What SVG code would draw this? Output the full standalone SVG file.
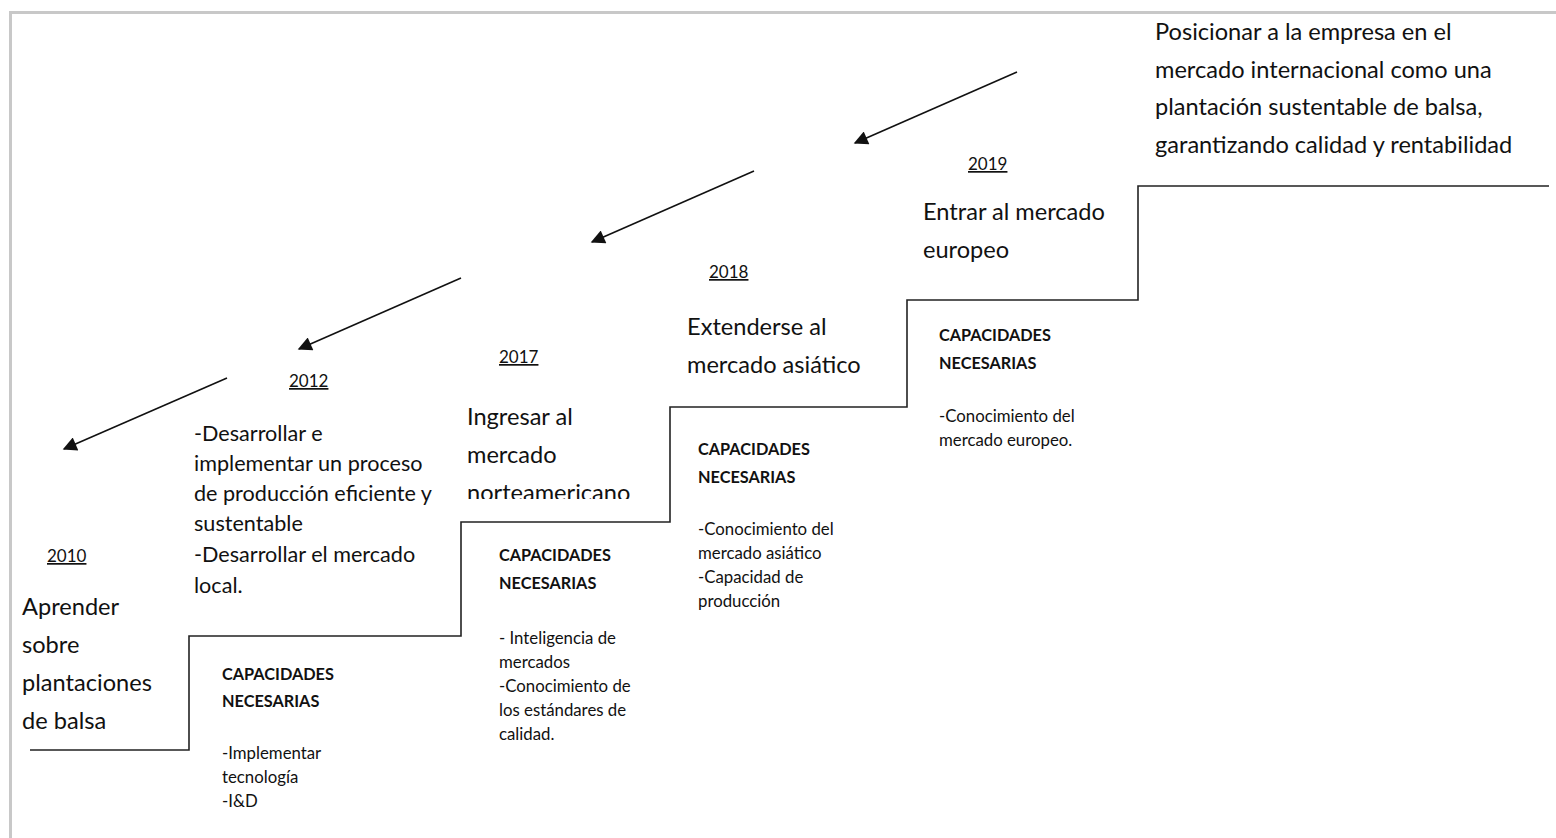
<svg xmlns="http://www.w3.org/2000/svg" width="1556" height="838" viewBox="0 0 1556 838">
<defs>
<style>
text{font-family:Lato,"Open Sans","Liberation Sans",sans-serif;fill:#111}
.yr{font-size:17px;text-decoration:underline}
.big{font-size:23.6px}
.mid{font-size:21.6px}
.cap{font-size:16.3px;font-weight:bold}
.sm{font-size:16.8px}
.conn{stroke:#111;stroke-width:1.6;fill:none}
.stair{stroke:#222;stroke-width:1.6;fill:none}
</style>
<marker id="ahb" viewBox="0 0 10 10" refX="9" refY="5" markerWidth="16" markerHeight="14" markerUnits="userSpaceOnUse" orient="auto">
<path d="M0,0 L10,5 L0,10 z" fill="#111"/>
</marker>
<clipPath id="clip2017"><rect x="440" y="380" width="220" height="119"/></clipPath>
</defs>
<rect width="1556" height="838" fill="#fff"/>
<path d="M10.5,838 V12.5 H1556" stroke="#c8c8c8" stroke-width="3" fill="none"/>
<g id="connectors">
<path class="stair" d="M30,750 H189 V636 H461 V522 H670 V407 H907 V300 H1138 V186 H1549"/>
<line class="conn" x1="227" y1="378" x2="64" y2="449" marker-end="url(#ahb)"/>
<line class="conn" x1="461" y1="278" x2="299" y2="349" marker-end="url(#ahb)"/>
<line class="conn" x1="754" y1="171" x2="592" y2="242" marker-end="url(#ahb)"/>
<line class="conn" x1="1017" y1="72" x2="855" y2="143" marker-end="url(#ahb)"/>
</g>
<g id="step2010">
<text class="yr" x="47" y="562">2010</text>
<text class="big" x="22"><tspan x="22" y="615">Aprender</tspan><tspan x="22" y="653">sobre</tspan><tspan x="22" y="691">plantaciones</tspan><tspan x="22" y="729">de balsa</tspan></text>
</g>
<g id="step2012">
<text class="yr" x="289" y="387">2012</text>
<text class="mid"><tspan x="194" y="441">-Desarrollar e</tspan><tspan x="194" y="471">implementar un proceso</tspan><tspan x="194" y="501">de producción eficiente y</tspan><tspan x="194" y="531">sustentable</tspan><tspan x="194" y="562">-Desarrollar el mercado</tspan><tspan x="194" y="593">local.</tspan></text>
<text class="cap"><tspan x="222" y="680">CAPACIDADES</tspan><tspan x="222" y="707">NECESARIAS</tspan></text>
<text class="sm"><tspan x="222" y="759">-Implementar</tspan><tspan x="222" y="783">tecnología</tspan><tspan x="222" y="807">-I&amp;D</tspan></text>
</g>
<g id="step2017">
<text class="yr" x="499" y="363">2017</text>
<text class="big" clip-path="url(#clip2017)"><tspan x="467" y="425">Ingresar al</tspan><tspan x="467" y="463">mercado</tspan><tspan x="467" y="501">norteamericano</tspan></text>
<text class="cap"><tspan x="499" y="561">CAPACIDADES</tspan><tspan x="499" y="589">NECESARIAS</tspan></text>
<text class="sm"><tspan x="499" y="644">- Inteligencia de</tspan><tspan x="499" y="668">mercados</tspan><tspan x="499" y="692">-Conocimiento de</tspan><tspan x="499" y="716">los estándares de</tspan><tspan x="499" y="740">calidad.</tspan></text>
</g>
<g id="step2018">
<text class="yr" x="709" y="278">2018</text>
<text class="big"><tspan x="687" y="335">Extenderse al</tspan><tspan x="687" y="373">mercado asiático</tspan></text>
<text class="cap"><tspan x="698" y="455">CAPACIDADES</tspan><tspan x="698" y="483">NECESARIAS</tspan></text>
<text class="sm"><tspan x="698" y="535">-Conocimiento del</tspan><tspan x="698" y="559">mercado asiático</tspan><tspan x="698" y="583">-Capacidad de</tspan><tspan x="698" y="607">producción</tspan></text>
</g>
<g id="step2019">
<text class="yr" x="968" y="170">2019</text>
<text class="big"><tspan x="923" y="220">Entrar al mercado</tspan><tspan x="923" y="258">europeo</tspan></text>
<text class="cap"><tspan x="939" y="341">CAPACIDADES</tspan><tspan x="939" y="369">NECESARIAS</tspan></text>
<text class="sm"><tspan x="939" y="422">-Conocimiento del</tspan><tspan x="939" y="446">mercado europeo.</tspan></text>
</g>
<g id="goal">
<text class="big"><tspan x="1155" y="40">Posicionar a la empresa en el</tspan><tspan x="1155" y="78">mercado internacional como una</tspan><tspan x="1155" y="115">plantación sustentable de balsa,</tspan><tspan x="1155" y="153">garantizando calidad y rentabilidad</tspan></text>
</g>
</svg>
